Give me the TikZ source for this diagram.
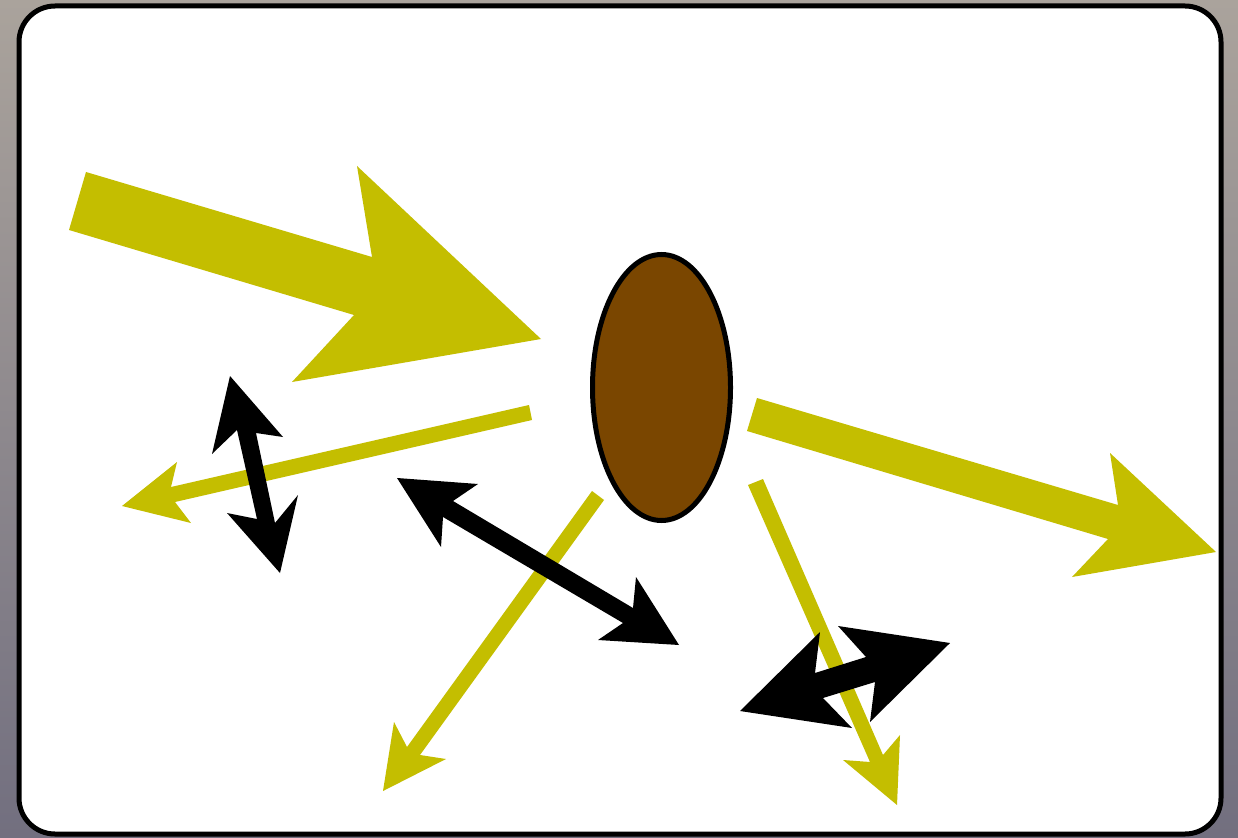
\documentclass[tikz,border=0pt]{standalone}
\usetikzlibrary{shapes.geometric}
\definecolor{yel}{RGB}{196,190,0}
\definecolor{brn}{RGB}{122,70,0}
\definecolor{bgtop}{RGB}{170,163,156}
\definecolor{bgbot}{RGB}{114,111,127}
\tikzset{
  yarrow/.style={fill=yel, draw=none},
  barrow/.style={fill=black, draw=none},
  frame/.style={draw=black, line width=5pt, fill=white, rounded corners=36pt},
  cellshape/.style={ellipse, draw=black, line width=5pt, fill=brn, minimum width=138pt, minimum height=266pt, inner sep=0pt}
}
\begin{document}
\begin{tikzpicture}[x=1pt,y=-1pt]
\useasboundingbox (0,0) rectangle (1238,837);
\shade[top color=bgtop, bottom color=bgbot] (0,0) rectangle (1238,837);
\draw[frame] (19,6) rectangle (1221,834);
% central ellipse
\node[cellshape] (cell) at (661.5,387.5) {};
% yellow arrows
\fill[yarrow] (86,172) -- (372,257) -- (357,166) -- (541,339) -- (292,382) -- (354,315) -- (69,230) -- cycle;
\fill[yarrow] (757,398) -- (1118,505) -- (1110,453) -- (1216,552) -- (1072,577) -- (1108,539) -- (747,431) -- cycle;
\fill[yarrow] (529,405) -- (171,487) -- (177,462) -- (122,506) -- (191,523) -- (175,502) -- (532,420) -- cycle;
\fill[yarrow] (592,491) -- (407,747) -- (394,722) -- (383,791) -- (446,759) -- (420,755) -- (604,500) -- cycle;
\fill[yarrow] (763,479) -- (883,755) -- (900,735) -- (897,805) -- (843,760) -- (870,762) -- (748,485) -- cycle;
% black double arrows
\fill[barrow] (230,376) -- (283,437) -- (256,433) -- (275,523) -- (298,495) -- (280,573) -- (227,513) -- (257,519) -- (237,430) -- (212,454) -- cycle;
\fill[barrow] (397,478) -- (478,484) -- (453,501) -- (633,608) -- (636,577) -- (679,645) -- (598,640) -- (623,623) -- (443,517) -- (441,547) -- cycle;
\fill[barrow] (740,711) -- (820,632) -- (815,673) -- (866,657) -- (838,626) -- (950,643) -- (870,722) -- (875,682) -- (823,698) -- (852,728) -- cycle;
\end{tikzpicture}
\end{document}
